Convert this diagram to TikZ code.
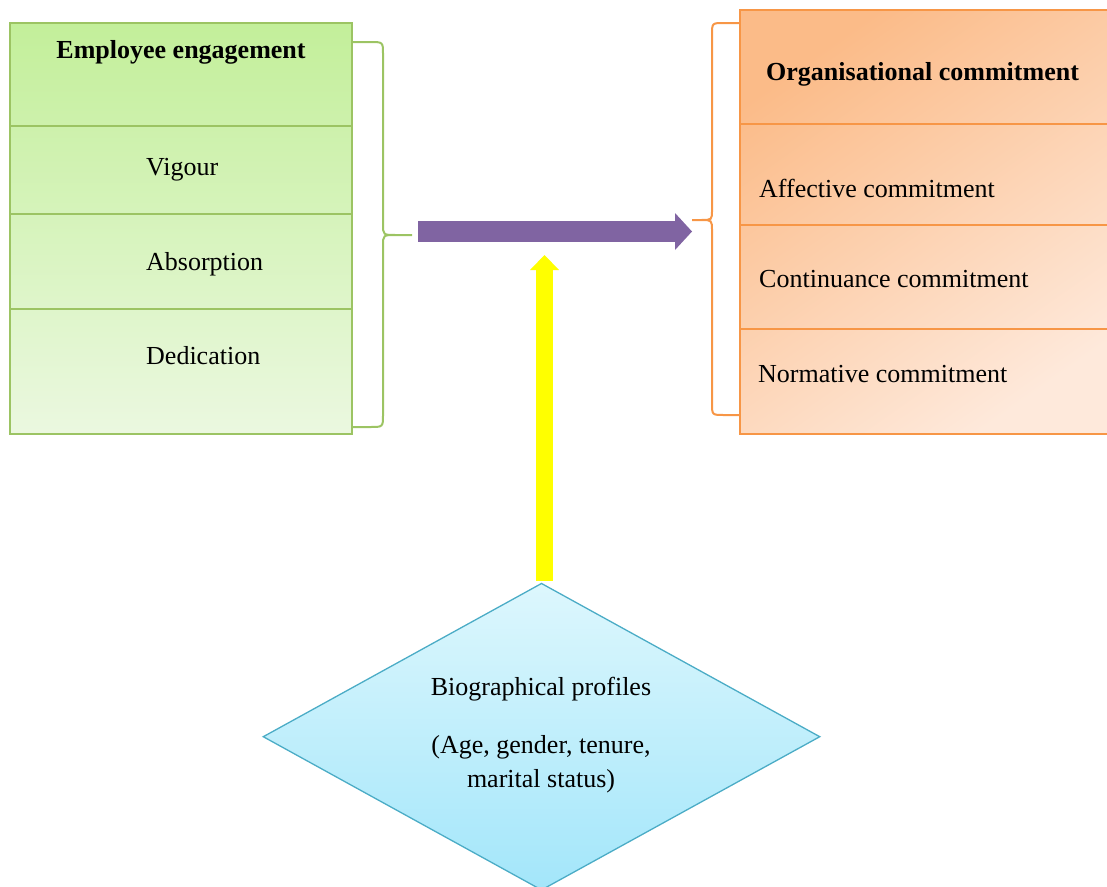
\documentclass[tikz,border=0pt]{standalone}
\usepackage{fontspec}
\setmainfont{Liberation Serif}
\usetikzlibrary{arrows.meta,shapes.geometric}

\definecolor{engTop}{HTML}{C3EF9A}
\definecolor{engBot}{HTML}{EBF8E0}
\definecolor{engLine}{HTML}{9CC463}
\definecolor{comTop}{HTML}{FBBB88}
\definecolor{comBot}{HTML}{FEE9DB}
\definecolor{comLine}{HTML}{F79646}
\definecolor{bioTop}{HTML}{DDF7FD}
\definecolor{bioBot}{HTML}{A3E6FA}
\definecolor{bioLine}{HTML}{4BACC6}
\definecolor{linkPurple}{HTML}{8064A2}
\definecolor{linkYellow}{HTML}{FFFF00}

\newcommand\diagfont{\fontsize{26}{34}\selectfont}

\tikzset{
  every node/.style={font=\diagfont, text=black},
  label/.style={anchor=base west, inner sep=0pt},
  title/.style={anchor=base, inner sep=0pt, font=\diagfont\bfseries},
  engbox/.style={rectangle, draw=engLine, line width=1.5pt, top color=engTop, bottom color=engBot, inner sep=0pt},
  combox/.style={rectangle, draw=comLine, line width=1.5pt, top color=comTop, bottom color=comBot, shading angle=35, inner sep=0pt},
  engrule/.style={draw=engLine, line width=1.5pt},
  comrule/.style={draw=comLine, line width=1.5pt},
  bracegreen/.style={draw=engLine, line width=2pt},
  braceorange/.style={draw=comLine, line width=2pt},
  biobox/.style={diamond, draw=bioLine, line width=1.3pt, top color=bioTop, bottom color=bioBot, inner sep=0pt},
  mainlink/.style={draw=linkPurple, line width=21pt, -{Triangle[length=17pt,width=37pt,line width=0pt]}},
  sidelink/.style={draw=linkYellow, line width=17pt, -{Triangle[length=15pt,width=29pt,line width=0pt]}},
}

\begin{document}
\begin{tikzpicture}[x=1pt, y=-1pt]
\useasboundingbox (0,0) rectangle (1107,886);
\clip (0,0) rectangle (1107,886);

% Employee engagement block
\node[engbox, minimum width=342pt, minimum height=411pt] (eng) at (181,228.5) {};
\draw[engrule] (10,126) -- (352,126);
\draw[engrule] (10,214) -- (352,214);
\draw[engrule] (10,309) -- (352,309);
\node[title] (engT) at (181,58) {Employee engagement};
\node[label] (vig) at (146,175) {Vigour};
\node[label] (abs) at (146,270) {Absorption};
\node[label] (ded) at (146,364) {Dedication};

% Organisational commitment block
\node[combox, minimum width=375pt, minimum height=424pt] (com) at (927.5,222) {};
\draw[comrule] (740,124) -- (1115,124);
\draw[comrule] (740,225) -- (1115,225);
\draw[comrule] (740,329) -- (1115,329);
\node[label, font=\diagfont\bfseries] (comT) at (766,80) {Organisational commitment};
\node[label] (aff) at (759,197) {Affective commitment};
\node[label] (con) at (759,287) {Continuance commitment};
\node[label] (nor) at (758,382) {Normative commitment};

% grouping braces
\draw[bracegreen] (352,42) -- (370,42) .. controls (383,42) .. (383,54) -- (383,224)
  .. controls (383,235) .. (396,235) -- (412,235)
  (396,235) .. controls (383,235) .. (383,246) -- (383,415)
  .. controls (383,427) .. (370,427) -- (352,427);
\draw[braceorange] (740,23) -- (724,23) .. controls (712,23) .. (712,35) -- (712,210)
  .. controls (712,220) .. (701,220) -- (692,220)
  (701,220) .. controls (712,220) .. (712,231) -- (712,403)
  .. controls (712,415) .. (724,415) -- (740,415);
\coordinate (engTip) at (412,235);
\coordinate (comTip) at (692,220);

% biographical profiles
\node[biobox, minimum width=557pt, minimum height=307pt] (bio) at (541.5,736.7) {};
\node[anchor=base, inner sep=0pt] (bio1) at (541,695) {Biographical profiles};
\node[anchor=base, inner sep=0pt] (bio2) at (541,753) {(Age, gender, tenure,};
\node[anchor=base, inner sep=0pt] (bio3) at (541,787) {marital status)};

% links
\coordinate (mainStart) at (418,231.5);
\coordinate (mainEnd) at (692,231.5);
\draw[mainlink] (mainStart) -- (mainEnd);
\coordinate (sideStart) at (544.5,581);
\coordinate (sideEnd) at (544.5,255);
\draw[sidelink] (sideStart) -- (sideEnd);
\end{tikzpicture}
\end{document}
